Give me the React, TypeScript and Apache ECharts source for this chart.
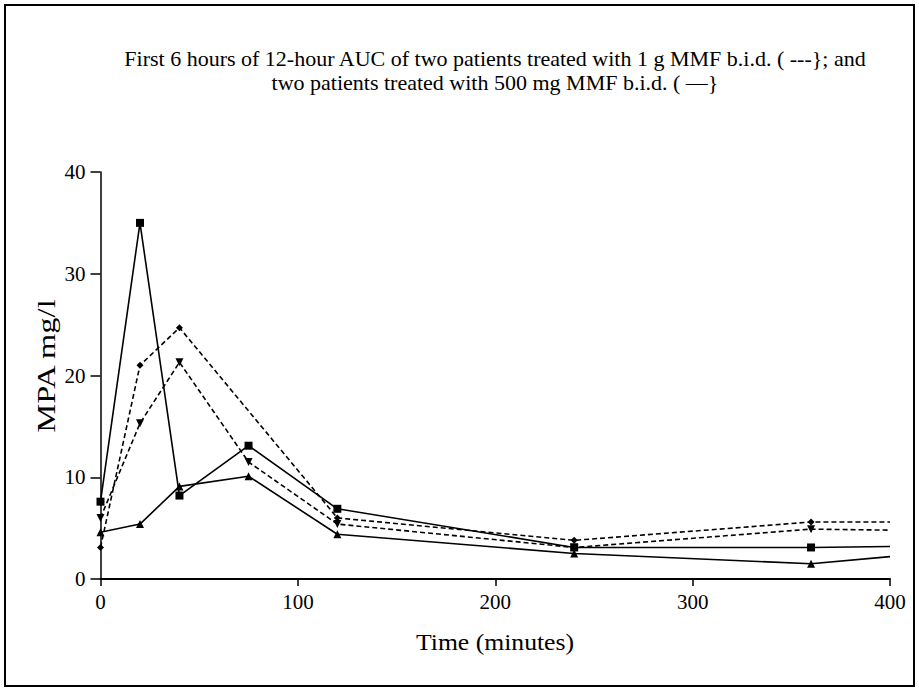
import React, { useEffect, useRef } from "react";
import * as echarts from "echarts";

const xTicks = [0, 100, 200, 300, 400];
const yTicks = [0, 10, 20, 30, 40];

const titleLine1 = "First 6 hours of 12-hour AUC of two patients treated with 1 g MMF b.i.d. ( ---}; and";
const titleLine2 = "two patients treated with 500 mg MMF b.i.d. ( \u2014}";
const xTitle = "Time (minutes)";
const yTitle = "MPA mg/l";

// 500 mg MMF patients (solid lines)
const solidSquare: number[][] = [
  [0, 7.6], [20, 35], [40, 8.2], [75, 13.1], [120, 6.9], [240, 3.1], [360, 3.1], [400, 3.2],
];
const solidTriangle: number[][] = [
  [0, 4.6], [20, 5.4], [40, 9.1], [75, 10.1], [120, 4.4], [240, 2.5], [360, 1.5], [400, 2.2],
];
// 1 g MMF patients (dashed lines)
const dashedDiamond: number[][] = [
  [0, 3.1], [20, 21.0], [40, 24.7], [120, 6.0], [240, 3.8], [360, 5.6], [400, 5.6],
];
const dashedTriangleDown: number[][] = [
  [0, 6.0], [20, 15.3], [40, 21.3], [75, 11.5], [120, 5.4], [240, 3.1], [360, 4.9], [400, 4.8],
];

const FONT = "Liberation Serif";

function toData(arr: number[][]) {
  return arr.map((p) =>
    p[0] >= 400 ? { value: p, symbol: "none" } : { value: p }
  );
}

export default function App() {
  const ref = useRef<HTMLDivElement>(null);

  useEffect(() => {
    if (!ref.current) return;
    const chart = echarts.init(ref.current, undefined, { renderer: "svg" });

    const mk = (
      name: string,
      data: number[][],
      symbol: string,
      dashed: boolean,
      size: number,
      rotate = 0
    ) => ({
      name,
      type: "line",
      data: toData(data),
      symbol,
      symbolSize: size,
      symbolRotate: rotate,
      showAllSymbol: true,
      lineStyle: { color: "#000", width: 1.6, type: dashed ? [5, 3] : "solid" },
      itemStyle: { color: "#000" },
      z: 3,
    });

    chart.setOption({
      animation: false,
      backgroundColor: "#fff",
      grid: { left: 100.5, right: 29, top: 172, bottom: 109, containLabel: false },
      xAxis: {
        type: "value",
        min: 0,
        max: 400,
        interval: 100,
        axisLine: { show: true, lineStyle: { color: "#000", width: 2 } },
        axisTick: { show: true, length: 7, lineStyle: { color: "#000", width: 1.5 } },
        axisLabel: {
          color: "#000",
          fontFamily: FONT,
          fontSize: 21,
          margin: 12,
          formatter: (v: number) => (xTicks.includes(v) ? String(v) : ""),
        },
        splitLine: { show: false },
      },
      yAxis: {
        type: "value",
        min: 0,
        max: 40,
        interval: 10,
        axisLine: { show: true, lineStyle: { color: "#000", width: 1.5 } },
        axisTick: { show: true, length: 10, lineStyle: { color: "#000", width: 1.5 } },
        axisLabel: {
          color: "#000",
          fontFamily: FONT,
          fontSize: 21,
          margin: 15,
          formatter: (v: number) => (yTicks.includes(v) ? String(v) : ""),
        },
        splitLine: { show: false },
      },
      graphic: [
        {
          type: "rect",
          shape: { x: 5, y: 5, width: 909, height: 681 },
          style: { fill: "none", stroke: "#000", lineWidth: 2 },
          silent: true,
        },
        {
          type: "text",
          x: 495,
          y: 58,
          style: {
            text: titleLine1,
            fontFamily: FONT,
            fontSize: 22,
            fill: "#000",
            align: "center",
            verticalAlign: "middle",
          },
        },
        {
          type: "text",
          x: 495,
          y: 82,
          style: {
            text: titleLine2,
            fontFamily: FONT,
            fontSize: 22,
            fill: "#000",
            align: "center",
            verticalAlign: "middle",
          },
        },
        {
          type: "text",
          x: 495,
          y: 642,
          scaleX: 1.07,
          style: {
            text: xTitle,
            fontFamily: FONT,
            fontSize: 24,
            fill: "#000",
            align: "center",
            verticalAlign: "middle",
          },
        },
        {
          type: "text",
          x: 46,
          y: 366,
          rotation: Math.PI / 2,
          scaleX: 1.25,
          style: {
            text: yTitle,
            fontFamily: FONT,
            fontSize: 26,
            fill: "#000",
            align: "center",
            verticalAlign: "middle",
          },
        },
      ],
      series: [
        mk("500 mg patient 1", solidSquare, "rect", false, 8),
        mk("500 mg patient 2", solidTriangle, "triangle", false, 8),
        mk("1 g patient 1", dashedDiamond, "diamond", true, 7),
        mk("1 g patient 2", dashedTriangleDown, "triangle", true, 8, 180),
      ],
    });

    return () => chart.dispose();
  }, []);

  return (
    <div
      ref={ref}
      style={{ position: "absolute", left: 0, top: 0, width: 919, height: 688 }}
    />
  );
}
